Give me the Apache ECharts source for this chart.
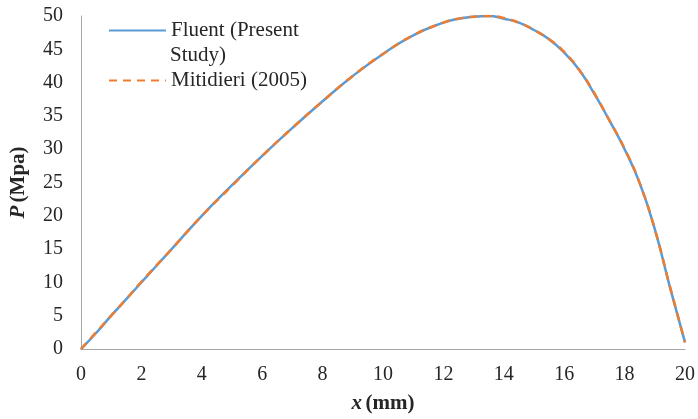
<!DOCTYPE html>
<html lang="en">
<head>
  <meta charset="utf-8" />
  <script src="https://cdn.jsdelivr.net/npm/echarts@6/dist/echarts.min.js"></script>
</head>
<body style="margin: 0">
  <div id="container" style="width: 698px; height: 419px"></div>
  <script type="text/javascript">
    // x (mm) positions and pressure (MPa)
    var xMm = [0, 0.5, 1, 1.5, 2, 3, 4, 5, 6, 7, 8, 9, 10, 11, 12, 12.5, 13, 13.5, 14, 14.5, 15, 15.5, 16, 16.5, 17, 17.5, 18, 18.5, 19, 19.5, 20];
    var fluent = [0, 2.4, 5, 7.5, 10, 15, 20, 24.6, 29, 33.2, 37.2, 41, 44.3, 47.1, 49, 49.6, 49.9, 50, 49.6, 49, 47.9, 46.5, 44.5, 41.9, 38.3, 34.3, 30, 24.9, 18, 9.3, 1];
    var mitidieri = [0, 2.5, 5, 7.5, 10.1, 15, 20, 24.5, 29, 33.2, 37.2, 41, 44.3, 47.1, 49, 49.6, 49.9, 50, 49.7, 49, 47.9, 46.5, 44.6, 41.9, 38.4, 34.3, 30.1, 24.9, 18, 9.4, 1];

    function pairs(xs, ys) {
      return xs.map(function (x, i) { return [x, ys[i]]; });
    }

    var font = "Liberation Serif";
    var textColor = "#262626";

    var dom = document.getElementById("container");
    var myChart = echarts.init(dom, null, { renderer: "canvas" });

    var nameRich = {
      i: { fontFamily: font, fontSize: 21, fontWeight: "bold", fontStyle: "italic", color: textColor },
      b: { fontFamily: font, fontSize: 21, fontWeight: "bold", color: textColor }
    };

    var option = {
      animation: false,
      backgroundColor: "#fff",
      grid: { left: 80, right: 12, top: 16, bottom: 68 },
      legend: {
        orient: "vertical",
        left: 108,
        top: 20,
        padding: 0,
        itemWidth: 57,
        itemHeight: 14,
        itemGap: 29,
        itemStyle: { opacity: 0 },
        textStyle: { fontFamily: font, fontSize: 21, color: textColor },
        formatter: function (name) {
          return name === "Fluent (Present Study)" ? "Fluent (Present" : name;
        },
        data: ["Fluent (Present Study)", "Mitidieri (2005)"]
      },
      graphic: [{
        type: "text",
        left: 170,
        top: 45,
        style: { text: "Study)", font: "21px " + font, fill: textColor }
      }],
      xAxis: {
        type: "value",
        min: 0,
        max: 20,
        interval: 2,
        name: "{i|x} {b|(mm)}",
        nameLocation: "middle",
        nameGap: 44,
        nameTextStyle: { rich: nameRich },
        axisLine: { lineStyle: { color: "#a6a6a6", width: 1 } },
        axisTick: { show: false },
        splitLine: { show: false },
        axisLabel: { fontFamily: font, fontSize: 20, color: textColor, margin: 16 }
      },
      yAxis: {
        type: "value",
        min: 0,
        max: 50,
        interval: 5,
        name: "{i|P} {b|(Mpa)}",
        nameLocation: "middle",
        nameGap: 52,
        nameTextStyle: { rich: nameRich },
        axisLine: { show: true, lineStyle: { color: "#a6a6a6", width: 1 } },
        axisTick: { show: false },
        splitLine: { show: false },
        axisLabel: { fontFamily: font, fontSize: 20, color: textColor, margin: 18 }
      },
      series: [
        {
          name: "Fluent (Present Study)",
          type: "line",
          smooth: true,
          showSymbol: false,
          symbol: "none",
          data: pairs(xMm, fluent),
          lineStyle: { color: "#5b9bd5", width: 2.5 },
          itemStyle: { color: "#5b9bd5" }
        },
        {
          name: "Mitidieri (2005)",
          type: "line",
          smooth: true,
          showSymbol: false,
          symbol: "none",
          data: pairs(xMm, mitidieri),
          lineStyle: { color: "#ed7d31", width: 2.5, type: [8, 6] },
          itemStyle: { color: "#ed7d31" }
        }
      ]
    };

    myChart.setOption(option);
    window.addEventListener("resize", myChart.resize);
  </script>
</body>
</html>
